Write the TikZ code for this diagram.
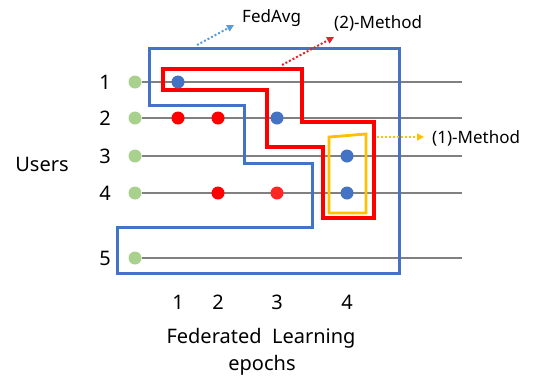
\documentclass[tikz,border=0pt]{standalone}
\usepackage{fontspec}
\setmainfont{Noto Sans}
\usetikzlibrary{arrows.meta}
\definecolor{oblue}{HTML}{4472C4}
\definecolor{ored}{HTML}{FF0000}
\definecolor{oyellow}{HTML}{FFC000}
\definecolor{ogreen}{HTML}{A9D18E}
\definecolor{ogray}{HTML}{808080}
\definecolor{ablue}{HTML}{5B9BD5}
\definecolor{ared}{HTML}{E8202A}
\tikzset{
  dotg/.style={circle,fill=ogreen,inner sep=0pt,minimum size=13pt},
  dotb/.style={circle,fill=oblue,inner sep=0pt,minimum size=13pt},
  dotr/.style={circle,fill=ored,inner sep=0pt,minimum size=13pt},
  dotrl/.style={circle,fill=ored!85!white,inner sep=0pt,minimum size=13pt},
  rowline/.style={draw=ogray,line width=1.1pt},
  lbl/.style={font=\fontsize{20}{24}\selectfont,inner sep=0pt},
  slbl/.style={font=\fontsize{17}{20}\selectfont,inner sep=0pt,anchor=west},
  darrow/.style={line width=2pt,dotted,-{Triangle[length=7pt,width=7pt]}},
}
\begin{document}
\begin{tikzpicture}[x=1pt,y=-1pt]
\useasboundingbox (0,0) rectangle (534,376);
% rows
\foreach \n/\y in {1/82,2/118,3/156,4/193,5/258}{
  \node[dotg] (g\n) at (135,\y) {};
  \coordinate (e\n) at (462,\y);
  \node[lbl] (r\n) at (105,\y) {\n};
}
\foreach \n in {1,...,5}{\draw[rowline] (g\n) -- (e\n);}
% outlines
\draw[oblue,line width=3pt,line join=miter]
  (149,48) -- (399,48) -- (399,273) -- (117,273) -- (117,227) -- (312,227)
  -- (312,163) -- (244,163) -- (244,105) -- (149,105) -- cycle;
\draw[ored,line width=3.2pt,line join=miter]
  (163,69) -- (302,69) -- (302,122) -- (374,122) -- (374,218) -- (323,218)
  -- (323,147) -- (267,147) -- (267,90) -- (163,90) -- cycle;
\draw[oyellow,line width=2.8pt,line join=miter]
  (329,137) -- (366,134) -- (366,213) -- (329,213) -- cycle;
% dots
\node[dotb] (d11) at (178,82) {};
\node[dotr] (d21) at (178,118) {};
\node[dotr] (d22) at (218,118) {};
\node[dotb] (d23) at (277,118) {};
\node[dotb] (d34) at (347,156) {};
\node[dotr] (d42) at (218,193) {};
\node[dotrl] (d43) at (277,193) {};
\node[dotb] (d44) at (347,193) {};
% labels
\node[lbl] (users) at (42,164) {Users};
\node[lbl] (c1) at (178,302) {1};
\node[lbl] (c2) at (218,302) {2};
\node[lbl] (c3) at (277,302) {3};
\node[lbl] (c4) at (347,302) {4};
\node[lbl] (fl) at (261,338) {Federated\ \ Learning};
\node[lbl] (ep) at (262,365) {epochs};
\node[slbl] (fedavg) at (242,18) {FedAvg};
\node[slbl] (m2) at (334,23) {(2)-Method};
\node[slbl] (m1) at (432,138) {(1)-Method};
% arrows
\coordinate (fa0) at (197,45);
\coordinate (fa1) at (234,25);
\coordinate (m20) at (282,65);
\coordinate (m21) at (334,37);
\coordinate (m10) at (377,137);
\coordinate (m11) at (424,137);
\draw[darrow,ablue] (fa0) -- (fa1);
\draw[darrow,ared] (m20) -- (m21);
\draw[darrow,oyellow] (m10) -- (m11);
\end{tikzpicture}
\end{document}
